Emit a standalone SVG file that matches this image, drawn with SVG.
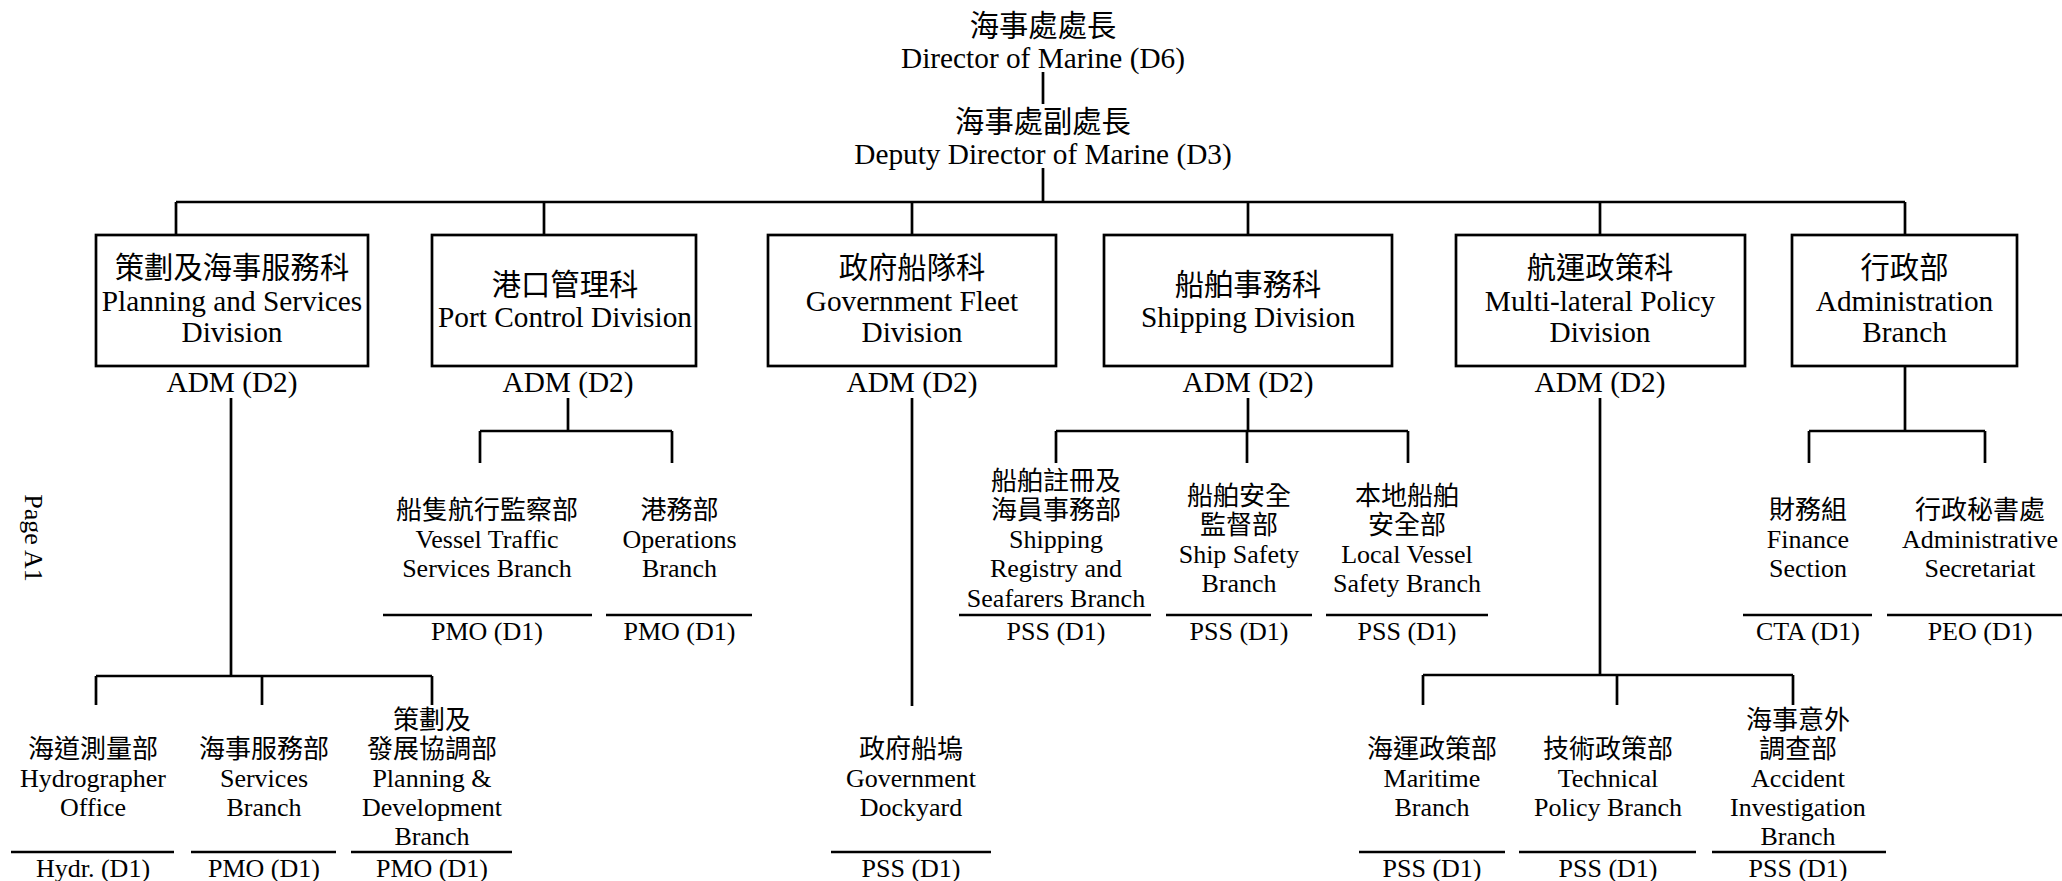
<svg xmlns="http://www.w3.org/2000/svg" width="2062" height="881" viewBox="0 0 2062 881">
<style>
.ln{stroke:#000;stroke-width:2.7;fill:none}
.box{fill:#fff;stroke:#000;stroke-width:2.7}
text{text-anchor:middle;fill:#000}
.e{font-family:"Liberation Serif","Times New Roman",serif}
.c{font-family:"Noto Sans CJK TC","Noto Sans CJK SC",sans-serif}
.L{font-size:29.3px}
.S{font-size:26px}
</style>
<rect width="2062" height="881" fill="#fff"/>
<g id="connectors" class="ln">
<path d="M1043 72V104M1043 168V202M176 202H1905M176 202V235M544 202V235M912 202V235M1248 202V235M1600 202V235M1905 202V235"/>
<path d="M231 398V676M96 676H432M96 676V705M262 676V705M432 676V705"/>
<path d="M568 398V431M480 431H672M480 431V463M672 431V463"/>
<path d="M912 398V706"/>
<path d="M1248 398V431M1056 431H1408M1056 431V463M1247 431V463M1408 431V463"/>
<path d="M1600 398V675M1423 675H1793M1423 675V705M1617 675V705M1793 675V705"/>
<path d="M1905 366V431M1809 431H1985M1809 431V463M1985 431V463"/>
</g>
<g id="director"><text class="c L" x="1043" y="36">海事處處長</text><text class="e L" x="1043" y="67.6">Director of Marine (D6)</text></g>
<g id="deputy"><text class="c L" x="1043" y="132">海事處副處長</text><text class="e L" x="1043" y="163.6">Deputy Director of Marine (D3)</text></g>
<g id="div-planning"><rect class="box" x="96" y="235" width="272" height="131"/><text class="c L" x="232" y="278">策劃及海事服務科</text><text class="e L" x="232" y="310.7">Planning and Services</text><text class="e L" x="232" y="342.4">Division</text><text class="e L" x="232" y="392.4">ADM (D2)</text></g>
<g id="div-port"><rect class="box" x="432" y="235" width="264" height="131"/><text class="c L" x="565" y="295">港口管理科</text><text class="e L" x="565" y="326.7">Port Control Division</text><text class="e L" x="568" y="392.4">ADM (D2)</text></g>
<g id="div-fleet"><rect class="box" x="768" y="235" width="288" height="131"/><text class="c L" x="912" y="278">政府船隊科</text><text class="e L" x="912" y="310.7">Government Fleet</text><text class="e L" x="912" y="342.4">Division</text><text class="e L" x="912" y="392.4">ADM (D2)</text></g>
<g id="div-shipping"><rect class="box" x="1104" y="235" width="288" height="131"/><text class="c L" x="1248" y="295">船舶事務科</text><text class="e L" x="1248" y="326.7">Shipping Division</text><text class="e L" x="1248" y="392.4">ADM (D2)</text></g>
<g id="div-policy"><rect class="box" x="1456" y="235" width="289" height="131"/><text class="c L" x="1600" y="278">航運政策科</text><text class="e L" x="1600" y="310.7">Multi-lateral Policy</text><text class="e L" x="1600" y="342.4">Division</text><text class="e L" x="1600" y="392.4">ADM (D2)</text></g>
<g id="div-admin"><rect class="box" x="1792" y="235" width="225" height="131"/><text class="c L" x="1904.5" y="278">行政部</text><text class="e L" x="1904.5" y="310.7">Administration</text><text class="e L" x="1904.5" y="342.4">Branch</text></g>
<g id="vts"><text class="c S" x="487" y="519">船隻航行監察部</text><text class="e S" x="487" y="548">Vessel Traffic</text><text class="e S" x="487" y="577">Services Branch</text><path class="ln" d="M383 615H592"/><text class="e S" x="487" y="640">PMO (D1)</text></g>
<g id="ops"><text class="c S" x="679.5" y="519">港務部</text><text class="e S" x="679.5" y="548">Operations</text><text class="e S" x="679.5" y="577">Branch</text><path class="ln" d="M606 615H752"/><text class="e S" x="679.5" y="640">PMO (D1)</text></g>
<g id="registry"><text class="c S" x="1056" y="490">船舶註冊及</text><text class="c S" x="1056" y="519">海員事務部</text><text class="e S" x="1056" y="548">Shipping</text><text class="e S" x="1056" y="577">Registry and</text><text class="e S" x="1056" y="606.5">Seafarers Branch</text><path class="ln" d="M959 615H1151"/><text class="e S" x="1056" y="640">PSS (D1)</text></g>
<g id="shipsafety"><text class="c S" x="1239" y="505">船舶安全</text><text class="c S" x="1239" y="534">監督部</text><text class="e S" x="1239" y="563">Ship Safety</text><text class="e S" x="1239" y="592">Branch</text><path class="ln" d="M1166 615H1312"/><text class="e S" x="1239" y="640">PSS (D1)</text></g>
<g id="localvessel"><text class="c S" x="1407" y="505">本地船舶</text><text class="c S" x="1407" y="534">安全部</text><text class="e S" x="1407" y="563">Local Vessel</text><text class="e S" x="1407" y="592">Safety Branch</text><path class="ln" d="M1326 615H1488"/><text class="e S" x="1407" y="640">PSS (D1)</text></g>
<g id="finance"><text class="c S" x="1808" y="519">財務組</text><text class="e S" x="1808" y="548">Finance</text><text class="e S" x="1808" y="577">Section</text><path class="ln" d="M1743 615H1872"/><text class="e S" x="1808" y="640">CTA (D1)</text></g>
<g id="secretariat"><text class="c S" x="1980" y="519">行政秘書處</text><text class="e S" x="1980" y="548">Administrative</text><text class="e S" x="1980" y="577">Secretariat</text><path class="ln" d="M1887 615H2073"/><text class="e S" x="1980" y="640">PEO (D1)</text></g>
<g id="hydro"><text class="c S" x="93" y="758">海道測量部</text><text class="e S" x="93" y="787">Hydrographer</text><text class="e S" x="93" y="816">Office</text><path class="ln" d="M11 852H174"/><text class="e S" x="93" y="876.6">Hydr. (D1)</text></g>
<g id="services"><text class="c S" x="264" y="758">海事服務部</text><text class="e S" x="264" y="787">Services</text><text class="e S" x="264" y="816">Branch</text><path class="ln" d="M191 852H336"/><text class="e S" x="264" y="876.6">PMO (D1)</text></g>
<g id="plandev"><text class="c S" x="432" y="729">策劃及</text><text class="c S" x="432" y="758">發展協調部</text><text class="e S" x="432" y="787">Planning &amp;</text><text class="e S" x="432" y="816">Development</text><text class="e S" x="432" y="845">Branch</text><path class="ln" d="M351 852H512"/><text class="e S" x="432" y="876.6">PMO (D1)</text></g>
<g id="dockyard"><text class="c S" x="911" y="758">政府船塢</text><text class="e S" x="911" y="787">Government</text><text class="e S" x="911" y="816">Dockyard</text><path class="ln" d="M831 852H991"/><text class="e S" x="911" y="876.6">PSS (D1)</text></g>
<g id="maritime"><text class="c S" x="1432" y="758">海運政策部</text><text class="e S" x="1432" y="787">Maritime</text><text class="e S" x="1432" y="816">Branch</text><path class="ln" d="M1359 852H1505"/><text class="e S" x="1432" y="876.6">PSS (D1)</text></g>
<g id="technical"><text class="c S" x="1608" y="758">技術政策部</text><text class="e S" x="1608" y="787">Technical</text><text class="e S" x="1608" y="816">Policy Branch</text><path class="ln" d="M1519 852H1696"/><text class="e S" x="1608" y="876.6">PSS (D1)</text></g>
<g id="accident"><text class="c S" x="1798" y="729">海事意外</text><text class="c S" x="1798" y="758">調查部</text><text class="e S" x="1798" y="787">Accident</text><text class="e S" x="1798" y="816">Investigation</text><text class="e S" x="1798" y="845">Branch</text><path class="ln" d="M1712 852H1886"/><text class="e S" x="1798" y="876.6">PSS (D1)</text></g>
<text class="e S" transform="translate(25,538) rotate(90)" x="0" y="0">Page A1</text>
</svg>
